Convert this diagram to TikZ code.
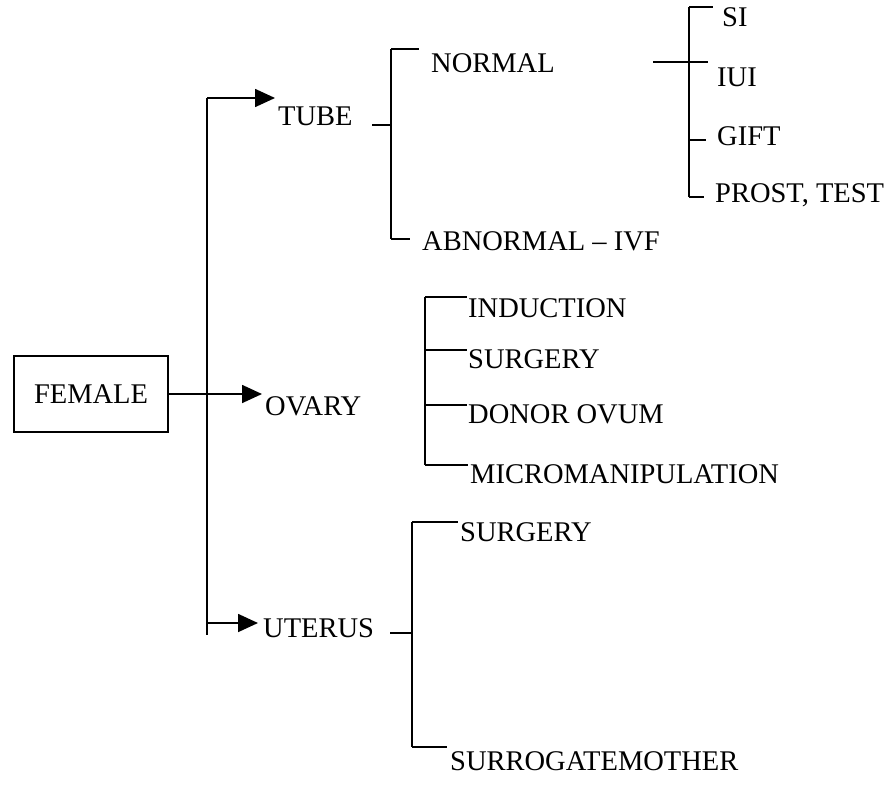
\documentclass[tikz,border=0pt]{standalone}
\usepackage{fontspec}
\setmainfont{Liberation Serif}
\usetikzlibrary{arrows.meta}
\newcommand\dgfont{\fontsize{28.5}{33}\selectfont}
\begin{document}
\begin{tikzpicture}[x=1pt,y=-1pt,
  lbl/.style={anchor=base west, inner sep=0pt, font=\dgfont},
  ln/.style={line width=1.7pt},
  arr/.style={ln, -{Triangle[length=20pt,width=18pt]}},
  boxnode/.style={draw, line width=1.7pt, minimum width=154pt, minimum height=76pt, inner sep=0pt, font=\dgfont}]
\useasboundingbox (0,0) rectangle (891,787);
% nodes
\node[boxnode] (female) at (91,394) {FEMALE};
\node[lbl] (tube) at (278,125) {TUBE};
\node[lbl] (ovary) at (265,415) {OVARY};
\node[lbl] (uterus) at (263,637) {UTERUS};
\node[lbl] (normal) at (431,72) {NORMAL};
\node[lbl] (abnormal) at (422,250) {ABNORMAL -- IVF};
\node[lbl] (si) at (722,27) {SI};
\node[lbl] (iui) at (717,86) {IUI};
\node[lbl] (gift) at (717,145) {GIFT};
\node[lbl] (prost) at (715,202) {PROST, TEST};
\node[lbl] (induction) at (468,317) {INDUCTION};
\node[lbl] (surgA) at (468,368) {SURGERY};
\node[lbl] (donor) at (468,423) {DONOR OVUM};
\node[lbl] (micro) at (470,483) {MICROMANIPULATION};
\node[lbl] (surgB) at (460,541) {SURGERY};
\node[lbl] (surro) at (450,770) {SURROGATEMOTHER};
% trunk
\coordinate (ttop) at (207,98);
\coordinate (tbot) at (207,635);
\coordinate (tutr) at (207,623);
\draw[ln] (ttop) -- (tbot);
\draw[arr] (ttop) -- ([xshift=-3pt]ttop -| tube.west);
\draw[arr] (female.east) -- ([xshift=-3pt]female.east -| ovary.west);
\draw[arr] (tutr) -- ([xshift=-5pt]tutr -| uterus.west);
% tube bracket
\coordinate (tb1) at (391,49);
\coordinate (tb2) at (391,239);
\coordinate (tbm) at (391,125);
\draw[ln] ([xshift=-19pt]tbm) -- (tbm);
\draw[ln] (tb1) -- (tb2);
\draw[ln] (tb1) -- ([xshift=-12pt]tb1 -| normal.west);
\draw[ln] (tb2) -- ([xshift=-12pt]tb2 -| abnormal.west);
% normal sub-bracket
\coordinate (nb1) at (689,7);
\coordinate (nb2) at (689,197);
\coordinate (nbm) at (689,62);
\coordinate (nbg) at (689,140);
\draw[ln] (nb1) -- (nb2);
\draw[ln] ([xshift=-36pt]nbm) -- ([xshift=-9pt]nbm -| iui.west);
\draw[ln] (nb1) -- ([xshift=-9pt]nb1 -| si.west);
\draw[ln] (nbg) -- ([xshift=-11pt]nbg -| gift.west);
\draw[ln] (nb2) -- ([xshift=-11pt]nb2 -| prost.west);
% ovary bracket
\coordinate (ob1) at (425,297);
\coordinate (ob2) at (425,350);
\coordinate (ob3) at (425,405);
\coordinate (ob4) at (425,465);
\draw[ln] (ob1) -- (ob4);
\draw[ln] (ob1) -- ([xshift=-1pt]ob1 -| induction.west);
\draw[ln] (ob2) -- ([xshift=-1pt]ob2 -| surgA.west);
\draw[ln] (ob3) -- ([xshift=-1pt]ob3 -| donor.west);
\draw[ln] (ob4) -- ([xshift=-2pt]ob4 -| micro.west);
% uterus bracket
\coordinate (ub1) at (412,522);
\coordinate (ub2) at (412,747);
\coordinate (ubm) at (412,633);
\draw[ln] (ub1) -- (ub2);
\draw[ln] ([xshift=-22pt]ubm) -- (ubm);
\draw[ln] (ub1) -- ([xshift=-2pt]ub1 -| surgB.west);
\draw[ln] (ub2) -- ([xshift=-3pt]ub2 -| surro.west);
\end{tikzpicture}
\end{document}
